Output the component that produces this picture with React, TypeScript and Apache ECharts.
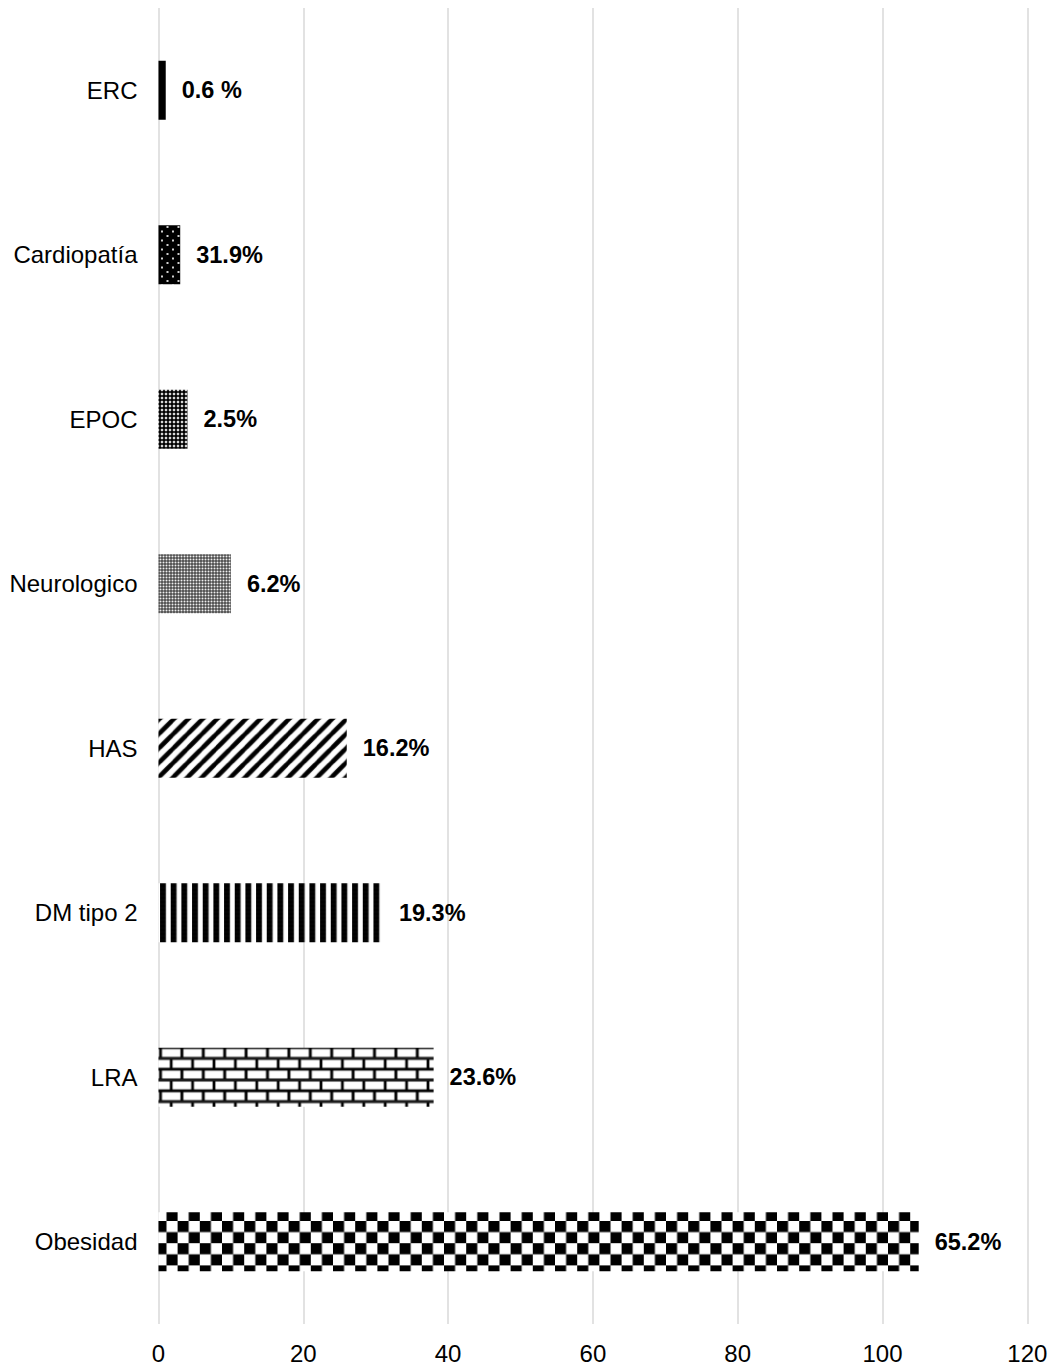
import React, { useEffect, useRef } from "react";
import * as echarts from "echarts";

// Comorbidities (top to bottom), case counts and the printed percentage labels
const categories = ["ERC", "Cardiopatía", "EPOC", "Neurologico", "HAS", "DM tipo 2", "LRA", "Obesidad"];
const counts = [1, 3, 4, 10, 26, 31, 38, 105];
const percentLabels = ["0.6 %", "31.9%", "2.5%", "6.2%", "16.2%", "19.3%", "23.6%", "65.2%"];
const axisMin = 0;
const axisMax = 120;
const axisStep = 20;

const FONT = "'Liberation Sans', Arial, Helvetica, sans-serif";

type Draw = (ctx: CanvasRenderingContext2D, w: number, h: number) => void;

// Builds a repeating image fill from a small canvas tile (drawn at higher resolution)
function tile(w: number, h: number, res: number, draw: Draw, x = 0, y = 0) {
  const c = document.createElement("canvas");
  c.width = Math.round(w * res);
  c.height = Math.round(h * res);
  const ctx = c.getContext("2d")!;
  ctx.scale(c.width / w, c.height / h);
  draw(ctx, w, h);
  return {
    image: c.toDataURL(),
    repeat: "repeat",
    imageWidth: w,
    imageHeight: h,
    x,
    y,
  };
}

function buildFills(): any[] {
  const solid = "#000000";

  const sparseDots = tile(11, 9, 4, (ctx, w, h) => {
    ctx.fillStyle = "#000";
    ctx.fillRect(0, 0, w, h);
    ctx.fillStyle = "#d0d0d0";
    ctx.fillRect(1.5, 1, 2, 2);
    ctx.fillRect(7, 5.5, 2, 2);
  }, 159, 0);

  const denseDots = tile(4, 4, 4, (ctx, w, h) => {
    ctx.fillStyle = "#000";
    ctx.fillRect(0, 0, w, h);
    ctx.fillStyle = "#d8d8d8";
    ctx.beginPath();
    ctx.arc(2, 2, 1.35, 0, Math.PI * 2);
    ctx.fill();
  }, 159, 0);

  const fineGrey = tile(3, 3, 1, (ctx, w, h) => {
    ctx.fillStyle = "#5a5a5a";
    ctx.fillRect(0, 0, w, h);
    ctx.fillStyle = "#909090";
    ctx.fillRect(0, 1, 1, 1);
    ctx.fillRect(2, 1, 1, 1);
    ctx.fillRect(1, 0, 1, 1);
    ctx.fillRect(1, 2, 1, 1);
    ctx.fillStyle = "#f0f0f0";
    ctx.fillRect(1, 1, 1, 1);
  }, 159, 0);

  const diagonal = tile(14.4, 14.4, 4, (ctx, w) => {
    ctx.fillStyle = "#fff";
    ctx.fillRect(0, 0, w, w);
    ctx.strokeStyle = "#000";
    ctx.lineWidth = 4.6;
    for (let k = 0; k <= 2; k++) {
      ctx.beginPath();
      ctx.moveTo(k * w + w, -w);
      ctx.lineTo(k * w - 2 * w, 2 * w);
      ctx.stroke();
    }
  }, 159, 0);

  const vertical = tile(10.67, 4, 4, (ctx, w, h) => {
    ctx.fillStyle = "#fff";
    ctx.fillRect(0, 0, w, h);
    ctx.fillStyle = "#000";
    ctx.fillRect(0, 0, 5.8, h);
  }, 160, 0);

  const brick = tile(21.4, 21.6, 4, (ctx, w, h) => {
    ctx.fillStyle = "#fff";
    ctx.fillRect(0, 0, w, h);
    ctx.strokeStyle = "#000";
    ctx.lineWidth = 2.9;
    const half = h / 2;
    ctx.beginPath();
    [0, half, h].forEach((yy) => {
      ctx.moveTo(0, yy);
      ctx.lineTo(w, yy);
    });
    ctx.moveTo(0, 0);
    ctx.lineTo(0, half);
    ctx.moveTo(w, 0);
    ctx.lineTo(w, half);
    ctx.moveTo(w / 2, half);
    ctx.lineTo(w / 2, h);
    ctx.stroke();
  }, 161.7, 1045.2);

  const checker = tile(22.2, 22.2, 4, (ctx, w) => {
    const s = w / 2;
    ctx.fillStyle = "#fff";
    ctx.fillRect(0, 0, w, w);
    ctx.fillStyle = "#000";
    ctx.fillRect(0, 0, s, s);
    ctx.fillRect(s, s, s, s);
  }, 159, 1214);

  return [solid, sparseDots, denseDots, fineGrey, diagonal, vertical, brick, checker];
}

export default function App() {
  const ref = useRef<HTMLDivElement>(null);

  useEffect(() => {
    if (!ref.current) return;
    const chart = echarts.init(ref.current, undefined, { renderer: "svg" });
    const fills = buildFills();

    chart.setOption({
      animation: false,
      backgroundColor: "#ffffff",
      grid: { left: 158.5, right: 24.7, top: 8, bottom: 44, containLabel: false },
      xAxis: {
        type: "value",
        min: axisMin,
        max: axisMax,
        interval: axisStep,
        axisLine: { show: false },
        axisTick: { show: false },
        splitLine: { show: true, lineStyle: { color: "#d9d9d9", width: 1.5 } },
        axisLabel: { fontSize: 24, color: "#000", margin: 17, fontFamily: FONT },
      },
      yAxis: {
        type: "category",
        data: categories,
        inverse: true,
        axisLine: { show: false },
        axisTick: { show: false },
        splitLine: { show: false },
        axisLabel: { fontSize: 24, color: "#000", margin: 21, fontFamily: FONT },
      },
      series: [
        {
          type: "bar",
          barWidth: 59,
          data: counts.map((v, i) => ({ value: v, itemStyle: { color: fills[i] } })),
          label: {
            show: true,
            position: "right",
            distance: 16,
            formatter: (p: any) => percentLabels[p.dataIndex],
            fontSize: 23.5,
            fontWeight: "bold",
            color: "#000",
            fontFamily: FONT,
          },
        },
      ],
    });

    return () => chart.dispose();
  }, []);

  return (
    <div
      ref={ref}
      style={{ position: "absolute", left: 0, top: 0, width: 1052, height: 1368 }}
    />
  );
}
